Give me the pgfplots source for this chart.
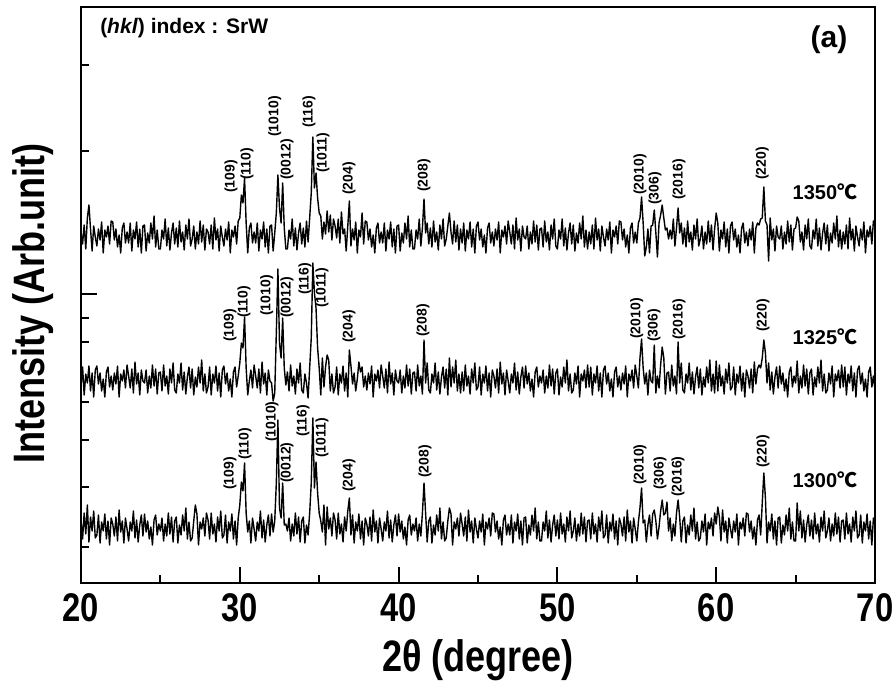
\documentclass[border=0pt]{standalone}
\usepackage{fontspec}
\setmainfont{Liberation Sans}
\newfontfamily\narrowfont[FakeStretch=0.82]{Liberation Sans}
\newfontfamily\cjk{Noto Sans CJK SC}
\usepackage{pgfplots}
\pgfplotsset{compat=1.18}
\usepackage{pgfplotstable}

\pgfplotstableread{
x a b c
20.0 63 196 351
20.1 44 216 339
20.2 70 188 358
20.3 49 209 334
20.4 78 200 365
20.5 41 217 378
20.6 66 192 354
20.7 52 210 332
20.8 72 186 357
20.9 45 213 346
21.0 48 217 337
21.1 68 199 354
21.2 40 210 343
21.3 61 192 361
21.4 52 204 330
21.5 69 186 353
21.6 44 211 346
21.7 62 216 357
21.8 38 196 339
21.9 65 207 362
22.0 59 193 361
22.1 47 210 343
22.2 66 199 354
22.3 42 217 336
22.4 73 186 348
22.5 51 209 330
22.6 62 202 355
22.7 40 213 360
22.8 65 195 340
22.9 54 218 351
23.0 42 207 340
23.1 61 195 360
23.2 52 214 332
23.3 72 190 353
23.4 45 221 344
23.5 63 199 361
23.6 41 210 336
23.7 58 188 354
23.8 68 213 330
23.9 47 202 357
24.0 69 200 358
24.1 51 213 332
24.2 62 190 350
24.3 44 207 340
24.4 56 195 360
24.5 38 218 344
24.6 63 197 367
24.7 68 214 336
24.8 48 189 353
24.9 59 210 334
25.0 52 211 334
25.1 65 192 353
25.2 42 218 344
25.3 59 197 364
25.4 47 207 337
25.5 70 189 355
25.6 49 214 333
25.7 66 200 350
25.8 41 220 360
25.9 62 193 339
26.0 66 190 355
26.1 40 209 336
26.2 58 200 362
26.3 48 220 341
26.4 68 193 351
26.5 52 211 333
26.6 75 189 358
26.7 44 206 344
26.8 61 216 364
26.9 42 195 337
27.0 45 214 344
27.1 62 188 357
27.2 78 206 334
27.3 69 196 351
27.4 38 216 339
27.5 61 200 362
27.6 54 223 341
27.7 65 192 358
27.8 47 209 333
27.9 70 190 354
28.0 63 196 351
28.1 44 216 339
28.2 70 188 358
28.3 49 209 334
28.4 59 200 365
28.5 41 217 343
28.6 66 192 354
28.7 52 210 332
28.8 72 186 357
28.9 45 213 346
29.0 48 217 337
29.1 68 199 354
29.2 40 210 343
29.3 61 192 361
29.4 52 204 330
29.5 69 186 353
29.6 44 211 346
29.7 62 216 357
29.8 38 196 339
29.9 65 207 362
30.0 78 220 365
30.1 101 240 388
30.2 92 235 380
30.3 120 266 405
30.4 70 215 360
30.5 51 188 330
30.6 62 202 355
30.7 40 213 360
30.8 65 195 340
30.9 54 218 351
31.0 42 207 340
31.1 61 195 360
31.2 52 214 332
31.3 72 190 353
31.4 45 221 344
31.5 63 199 361
31.6 41 210 336
31.7 58 188 354
31.8 68 213 330
31.9 47 202 357
32.0 69 200 358
32.1 51 182 332
32.2 62 190 350
32.3 100 250 370
32.4 163 314 408
32.5 75 240 375
32.6 65 225 360
32.7 100 265 400
32.8 58 215 355
32.9 59 198 334
33.0 52 211 334
33.1 65 192 353
33.2 42 218 344
33.3 59 197 364
33.4 47 207 337
33.5 70 189 355
33.6 49 214 333
33.7 66 200 350
33.8 41 220 360
33.9 62 193 339
34.0 66 190 355
34.1 40 209 336
34.2 58 200 362
34.3 48 185 341
34.4 70 215 365
34.5 100 245 390
34.6 165 320 446
34.7 95 290 395
34.8 121 275 410
34.9 90 235 385
35.0 70 215 370
35.1 62 188 367
35.2 51 225 344
35.3 78 196 361
35.4 38 216 349
35.5 76 228 372
35.6 54 223 351
35.7 65 192 368
35.8 47 209 343
35.9 70 190 364
36.0 63 196 357
36.1 44 216 345
36.2 70 188 364
36.3 49 209 340
36.4 59 200 371
36.5 41 217 349
36.6 66 192 354
36.7 52 210 332
36.8 72 186 357
36.9 85 233 382
37.0 48 217 337
37.1 68 199 354
37.2 40 210 343
37.3 61 192 361
37.4 52 204 330
37.5 69 221 353
37.6 44 211 346
37.7 62 216 370
37.8 38 196 339
37.9 65 207 362
38.0 59 193 361
38.1 47 210 343
38.2 66 199 354
38.3 42 217 336
38.4 73 186 348
38.5 51 209 330
38.6 62 202 355
38.7 40 213 360
38.8 65 195 340
38.9 54 218 351
39.0 42 207 340
39.1 61 195 360
39.2 52 214 332
39.3 72 190 353
39.4 45 221 344
39.5 63 199 361
39.6 41 210 336
39.7 58 188 354
39.8 68 213 330
39.9 47 202 357
40.0 69 200 358
40.1 51 213 332
40.2 62 190 350
40.3 44 207 340
40.4 56 195 360
40.5 38 218 344
40.6 63 197 367
40.7 68 214 336
40.8 48 189 353
40.9 59 210 334
41.0 52 211 334
41.1 65 192 353
41.2 42 218 344
41.3 59 197 364
41.4 47 207 337
41.5 70 189 355
41.6 100 243 384
41.7 70 200 350
41.8 41 220 360
41.9 62 193 339
42.0 66 190 355
42.1 40 209 336
42.2 58 200 362
42.3 48 220 341
42.4 68 193 351
42.5 52 211 333
42.6 75 189 358
42.7 44 206 344
42.8 61 216 364
42.9 42 195 337
43.0 45 214 344
43.1 62 188 357
43.2 75 225 370
43.3 69 196 351
43.4 38 216 339
43.5 61 200 362
43.6 54 223 341
43.7 65 192 358
43.8 47 209 333
43.9 70 190 354
44.0 59 211 340
44.1 47 192 360
44.2 66 218 332
44.3 42 197 353
44.4 73 207 344
44.5 51 189 361
44.6 62 214 336
44.7 40 200 354
44.8 65 220 330
44.9 54 193 357
45.0 45 196 361
45.1 62 216 343
45.2 51 188 354
45.3 69 209 336
45.4 38 200 348
45.5 61 217 330
45.6 54 192 355
45.7 65 210 360
45.8 47 186 340
45.9 70 213 351
46.0 69 207 337
46.1 51 195 354
46.2 62 214 343
46.3 44 190 361
46.4 56 221 330
46.5 38 199 353
46.6 63 210 346
46.7 68 188 357
46.8 48 213 339
46.9 59 202 362
47.0 48 190 351
47.1 68 209 339
47.2 40 200 358
47.3 61 220 334
47.4 52 193 365
47.5 69 211 343
47.6 44 189 354
47.7 62 206 332
47.8 38 216 357
47.9 65 195 346
48.0 66 217 344
48.1 40 199 357
48.2 58 210 334
48.3 48 192 351
48.4 68 204 339
48.5 52 186 362
48.6 75 211 341
48.7 44 216 358
48.8 61 196 333
48.9 42 207 354
49.0 42 200 355
49.1 61 213 336
49.2 52 190 362
49.3 72 207 341
49.4 45 195 351
49.5 63 218 333
49.6 41 197 358
49.7 58 214 344
49.8 68 189 364
49.9 47 210 337
50.0 63 214 334
50.1 44 188 353
50.2 70 206 344
50.3 49 196 364
50.4 59 216 337
50.5 41 200 355
50.6 66 223 333
50.7 52 192 350
50.8 72 209 360
50.9 45 190 339
51.0 52 193 358
51.1 65 210 332
51.2 42 199 350
51.3 59 217 340
51.4 47 186 360
51.5 70 209 344
51.6 49 202 367
51.7 66 213 336
51.8 41 195 353
51.9 62 218 334
52.0 63 196 351
52.1 44 216 339
52.2 70 188 358
52.3 49 209 334
52.4 59 200 365
52.5 41 217 343
52.6 66 192 354
52.7 52 210 332
52.8 72 186 357
52.9 45 213 346
53.0 48 217 337
53.1 68 199 354
53.2 40 210 343
53.3 61 192 361
53.4 52 204 330
53.5 69 186 353
53.6 44 211 346
53.7 62 216 357
53.8 38 196 339
53.9 65 207 362
54.0 59 193 361
54.1 47 210 343
54.2 66 199 354
54.3 42 217 336
54.4 73 186 348
54.5 51 209 330
54.6 62 202 355
54.7 40 213 360
54.8 65 195 340
54.9 54 218 351
55.0 42 207 340
55.1 61 195 360
55.2 75 225 365
55.3 95 244 386
55.4 60 215 360
55.5 63 199 327
55.6 41 210 336
55.7 58 188 354
55.8 68 213 330
55.9 47 202 357
56.0 69 200 358
56.1 73 238 373
56.2 62 190 350
56.3 44 207 326
56.4 56 195 360
56.5 72 218 368
56.6 83 236 378
56.7 68 225 365
56.8 70 189 353
56.9 81 210 355
57.0 52 211 344
57.1 65 192 353
57.2 42 218 344
57.3 59 197 364
57.4 47 207 337
57.5 70 189 355
57.6 83 241 375
57.7 66 200 350
57.8 41 220 360
57.9 62 193 339
58.0 66 190 355
58.1 40 209 336
58.2 58 200 362
58.3 48 220 341
58.4 68 193 351
58.5 52 211 333
58.6 75 189 358
58.7 44 206 344
58.8 61 216 364
58.9 42 195 337
59.0 45 214 344
59.1 62 188 357
59.2 51 206 334
59.3 69 196 351
59.4 38 216 339
59.5 61 200 362
59.6 54 223 341
59.7 65 192 358
59.8 47 209 333
59.9 70 190 354
60.0 59 222 370
60.1 76 192 360
60.2 66 218 332
60.3 42 197 353
60.4 73 207 344
60.5 51 189 361
60.6 62 214 336
60.7 40 200 354
60.8 65 220 330
60.9 54 193 357
61.0 45 196 361
61.1 62 216 343
61.2 51 188 354
61.3 69 209 336
61.4 38 200 348
61.5 61 217 330
61.6 54 192 355
61.7 65 210 360
61.8 47 186 340
61.9 70 213 351
62.0 69 207 337
62.1 51 195 354
62.2 62 214 343
62.3 44 190 361
62.4 56 221 330
62.5 38 199 355
62.6 63 214 360
62.7 68 218 358
62.8 48 215 364
62.9 80 225 365
63.0 110 243 396
63.1 85 230 362
63.2 40 200 358
63.3 61 220 322
63.4 52 193 365
63.5 69 211 343
63.6 44 189 354
63.7 62 206 332
63.8 38 216 357
63.9 65 195 346
64.0 66 217 344
64.1 40 199 357
64.2 58 210 334
64.3 48 192 351
64.4 68 204 339
64.5 52 186 362
64.6 75 211 341
64.7 44 216 358
64.8 61 196 333
64.9 42 207 354
65.0 42 200 355
65.1 80 222 366
65.2 52 190 362
65.3 72 207 341
65.4 45 195 351
65.5 63 218 333
65.6 41 197 358
65.7 58 214 344
65.8 68 189 364
65.9 47 210 337
66.0 63 214 334
66.1 44 188 353
66.2 70 206 344
66.3 49 196 364
66.4 59 216 337
66.5 41 200 355
66.6 66 223 333
66.7 52 192 350
66.8 72 209 360
66.9 45 190 339
67.0 52 193 358
67.1 65 210 332
67.2 42 199 350
67.3 59 217 340
67.4 47 186 360
67.5 70 209 344
67.6 49 202 367
67.7 66 213 336
67.8 41 195 353
67.9 62 218 334
68.0 63 196 351
68.1 44 216 339
68.2 70 188 358
68.3 49 209 334
68.4 59 200 365
68.5 41 217 343
68.6 66 192 354
68.7 52 210 332
68.8 72 186 357
68.9 45 213 346
69.0 48 217 337
69.1 68 199 354
69.2 40 210 343
69.3 61 192 361
69.4 52 204 330
69.5 69 186 353
69.6 44 211 346
69.7 62 216 357
69.8 38 196 339
69.9 65 207 362
70.0 59 193 361
}\xrd

\begin{document}
\begin{tikzpicture}[
  plabel/.style={rotate=90, anchor=west, inner sep=0pt, font=\bfseries\fontsize{14}{14}\selectfont},
  tlabel/.style={anchor=center, inner sep=0pt, font=\bfseries\fontsize{20}{20}\selectfont}]
\begin{axis}[
  width=794pt, height=576pt, scale only axis,
  xmin=20, xmax=70, ymin=0, ymax=576,
  axis line style={line width=2.5pt},
  xtick={20,30,...,70}, minor xtick={25,35,...,65},
  ytick={289}, minor ytick={36,96,143,181,241,265,432,518},
  yticklabels={},
  xtick pos=bottom, ytick pos=left, tick align=inside,
  major tick length=16pt, minor tick length=8pt,
  every tick/.style={line width=2pt, black},
  /pgf/number format/assume math mode=true,
  xticklabel style={font=\narrowfont\bfseries\fontsize{40}{40}\selectfont, inner sep=0pt, yshift=-10pt},
  xlabel={2θ (degree)},
  xlabel style={font=\narrowfont\bfseries\fontsize{44}{44}\selectfont, at={(axis description cs:0.5,0)}, anchor=center, yshift=-77pt},
  ylabel={Intensity (Arb.unit)},
  ylabel style={font=\narrowfont\bfseries\fontsize{44}{44}\selectfont, at={(axis description cs:-0.0605,0.485)}, anchor=center},
  clip=false,
]
\addplot[black, line width=1.4pt, line join=round] table[x=x, y=a] {\xrd};
\addplot[black, line width=1.4pt, line join=round] table[x=x, y=b] {\xrd};
\addplot[black, line width=1.4pt, line join=round] table[x=x, y=c] {\xrd};

% 1350
\node[plabel] at (29.45,390) {(109)};
\node[plabel] at (30.45,403) {(110)};
\node[plabel] at (32.2,446) {(1010)};
\node[plabel] at (32.97,403) {(0012)};
\node[plabel] at (34.36,455) {(116)};
\node[plabel] at (35.24,410) {(1011)};
\node[plabel] at (36.88,388) {(204)};
\node[plabel] at (41.6,391) {(208)};
\node[plabel] at (55.2,388) {(2010)};
\node[plabel] at (56.15,378) {(306)};
\node[plabel] at (57.66,383) {(2016)};
\node[plabel] at (62.9,403) {(220)};
% 1325
\node[plabel] at (29.38,241) {(109)};
\node[plabel] at (30.26,265) {(110)};
\node[plabel] at (31.7,267) {(1010)};
\node[plabel] at (32.97,265) {(0012)};
\node[plabel] at (34.1,288) {(116)};
\node[plabel] at (35.18,275) {(1011)};
\node[plabel] at (36.88,240) {(204)};
\node[plabel] at (41.54,246) {(208)};
\node[plabel] at (55.0,244) {(2010)};
\node[plabel] at (56.08,241) {(306)};
\node[plabel] at (57.66,243) {(2016)};
\node[plabel] at (62.95,251) {(220)};
% 1300
\node[plabel] at (29.38,93) {(109)};
\node[plabel] at (30.33,123) {(110)};
\node[plabel] at (32.03,141) {(1010)};
\node[plabel] at (32.97,100) {(0012)};
\node[plabel] at (33.98,146) {(116)};
\node[plabel] at (35.18,125) {(1011)};
\node[plabel] at (36.88,91) {(204)};
\node[plabel] at (41.66,105) {(208)};
\node[plabel] at (55.2,98) {(2010)};
\node[plabel] at (56.46,93) {(306)};
\node[plabel] at (57.6,86) {(2016)};
\node[plabel] at (62.95,115) {(220)};

\node[tlabel] at (66.85,391) {1350{\cjk ℃}};
\node[tlabel] at (66.85,246) {1325{\cjk ℃}};
\node[tlabel] at (66.85,103) {1300{\cjk ℃}};

\node[anchor=west, inner sep=0pt, font=\bfseries\fontsize{21}{21}\selectfont] at (21.2,555) {(\textit{hkl}) index : SrW};
\node[anchor=center, inner sep=0pt, font=\bfseries\fontsize{30}{30}\selectfont] at (67.1,543) {(a)};
\end{axis}
\path ([shift={(-81pt,-100pt)}]current axis.south west) rectangle ([shift={(19pt,7pt)}]current axis.north east);
\end{tikzpicture}
\end{document}
